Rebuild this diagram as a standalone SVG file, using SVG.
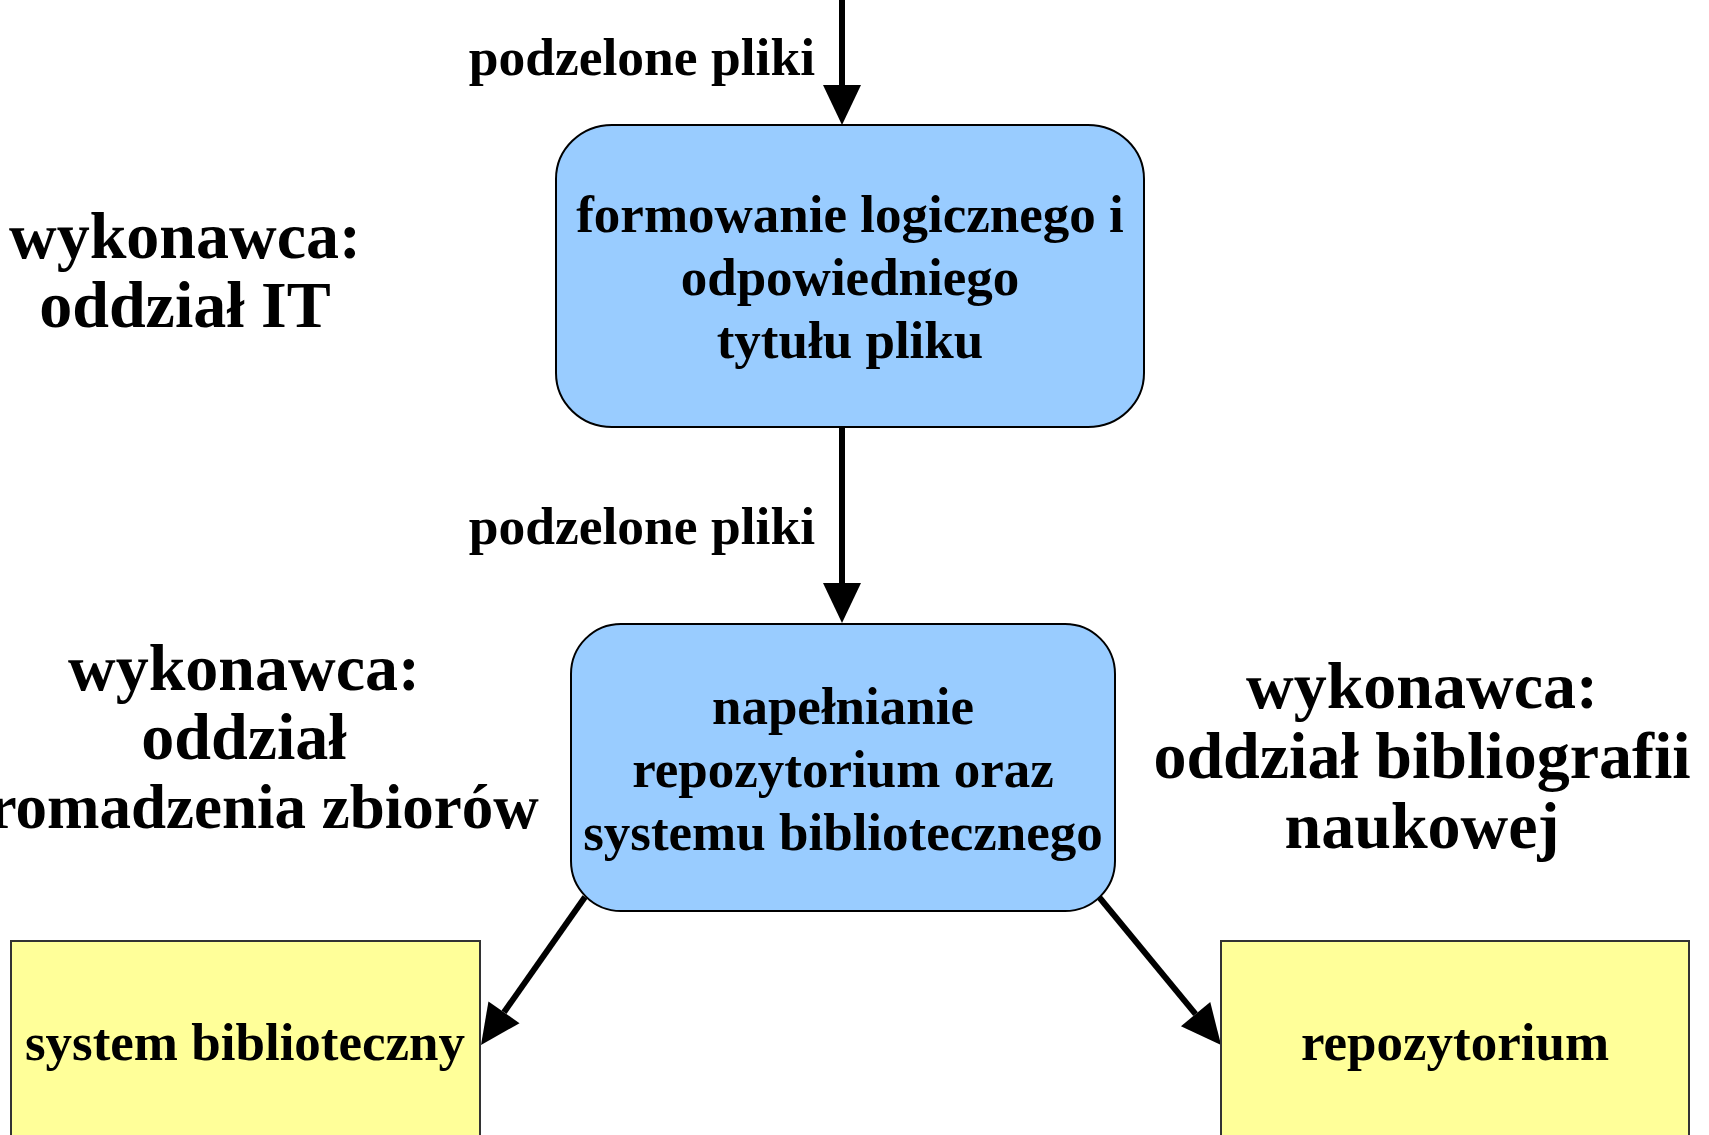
<svg xmlns="http://www.w3.org/2000/svg" width="1709" height="1135" viewBox="0 0 1709 1135">
<style>
.bg{fill:#ffffff}
.proc{fill:#99ccff;stroke:#000000;stroke-width:2}
.store{fill:#ffff99;stroke:#333333;stroke-width:2}
.t{font-family:"Liberation Serif","Times New Roman",serif;font-weight:bold;font-size:53px;fill:#000000;text-anchor:middle}
.lbl{font-family:"Liberation Serif","Times New Roman",serif;font-weight:bold;font-size:53.5px;fill:#000000;text-anchor:end}
.who{font-family:"Liberation Serif","Times New Roman",serif;font-weight:bold;font-size:66px;fill:#000000;text-anchor:middle}
.conn{stroke:#000000;stroke-width:6;fill:none}
</style>
<defs>
<marker id="ah" markerUnits="userSpaceOnUse" markerWidth="42" markerHeight="40" refX="0" refY="19" orient="auto" overflow="visible">
<path d="M0,0 L40,19 L0,38 z" fill="#000000"/>
</marker>
</defs>
<rect class="bg" x="0" y="0" width="1709" height="1135"/>
<g id="connectors">
<line class="conn" x1="842" y1="0" x2="842" y2="85" marker-end="url(#ah)"/>
<line class="conn" x1="842" y1="427" x2="842" y2="583" marker-end="url(#ah)"/>
<line class="conn" x1="585" y1="897" x2="504" y2="1012.3" marker-end="url(#ah)"/>
<line class="conn" x1="1099" y1="897" x2="1195.6" y2="1014.1" marker-end="url(#ah)"/>
<text class="lbl" x="815" y="75">podzelone pliki</text>
<text class="lbl" x="815" y="544">podzelone pliki</text>
</g>
<g id="node-formowanie">
<rect class="proc" x="556" y="125" width="588" height="302" rx="56" ry="54"/>
<text class="t" x="850" y="232">formowanie logicznego i</text>
<text class="t" x="850" y="295">odpowiedniego</text>
<text class="t" x="850" y="358">tytułu pliku</text>
</g>
<g id="node-napelnianie">
<rect class="proc" x="571" y="624" width="544" height="287" rx="50" ry="50"/>
<text class="t" x="843" y="724">napełnianie</text>
<text class="t" x="843" y="787">repozytorium oraz</text>
<text class="t" x="843" y="850">systemu bibliotecznego</text>
</g>
<g id="node-system">
<rect class="store" x="11" y="941" width="469" height="210"/>
<text class="t" x="245" y="1060">system biblioteczny</text>
</g>
<g id="node-repozytorium">
<rect class="store" x="1221" y="941" width="468" height="210"/>
<text class="t" x="1455" y="1060">repozytorium</text>
</g>
<g id="label-it">
<text class="who" x="185" y="258">wykonawca:</text>
<text class="who" x="185" y="327">oddział IT</text>
</g>
<g id="label-gromadzenie">
<text class="who" x="244" y="690">wykonawca:</text>
<text class="who" x="244" y="759">oddział</text>
<text class="who" x="248" y="828" style="font-size:63px">gromadzenia zbiorów</text>
</g>
<g id="label-bibliografia">
<text class="who" x="1422" y="708">wykonawca:</text>
<text class="who" x="1422" y="778">oddział bibliografii</text>
<text class="who" x="1422" y="848">naukowej</text>
</g>
</svg>
